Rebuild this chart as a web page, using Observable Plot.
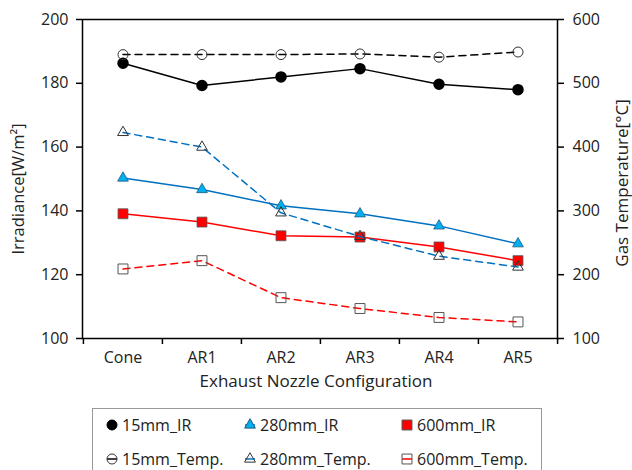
<!DOCTYPE html>
<html><head><meta charset="utf-8">
<script src="https://cdn.jsdelivr.net/npm/d3@7"></script>
<script src="https://cdn.jsdelivr.net/npm/@observablehq/plot@0.6"></script>
<style>
html,body{margin:0;padding:0;background:#fff;}
#wrap{position:relative;width:632px;height:470px;overflow:hidden;font-family:"Open Sans",sans-serif;color:#222;}
#legend{position:absolute;left:92px;top:408px;width:450px;height:63px;box-sizing:border-box;border:1px solid #999;}
.item{position:absolute;display:flex;align-items:center;font-size:16px;white-space:nowrap;height:24px;}
</style></head>
<body><div id="wrap"><div id="chart"></div><div id="legend"></div></div>
<script>
const categories = ["Cone","AR1","AR2","AR3","AR4","AR5"];
const ir15   = [186.3,179.3,182.0,184.6,179.7,178.0];
const ir280  = [150.3,146.7,141.6,139.1,135.3,129.7];
const ir600  = [139.1,136.5,132.2,131.8,128.7,124.4];
const temp15  = [545,545,545,546,541,549];
const temp280 = [423,400,297,260,229,212];
const temp600 = [209,222,164,147,133,126];
const leftTicks  = [100,120,140,160,180,200];
const rightTicks = [100,200,300,400,500,600];
const seriesNames = ["15mm_IR","280mm_IR","600mm_IR","15mm_Temp.","280mm_Temp.","600mm_Temp."];

const L0=100, L1=200, R0=100, R1=600;
const toLeft = t => L0 + (t - R0) * (L1 - L0) / (R1 - R0);
const fromLeft = v => R0 + (v - L0) * (R1 - R0) / (L1 - L0);

const rows = categories.map((c,i)=>({cat:c, ir15:ir15[i], ir280:ir280[i], ir600:ir600[i],
  t15:toLeft(temp15[i]), t280:toLeft(temp280[i]), t600:toLeft(temp600[i])}));

const W=632, H=395, mL=82, mR=75, mT=19, mB=57;
const bw = (W-mL-mR)/categories.length;
const BLUE="#0070c0", CYAN="#00b0f0", RED="#ff0000";
const dash="7,5";

const chart = Plot.plot({
  width:W, height:H, marginLeft:mL, marginRight:mR, marginTop:mT, marginBottom:mB,
  style:{fontFamily:"Open Sans, sans-serif", fontSize:"16px", color:"#222", background:"#fff"},
  x:{type:"band", domain:categories, padding:0, axis:null},
  y:{domain:[L0,L1], axis:null},
  marks:[
    Plot.axisY(leftTicks,{anchor:"left", tickSize:6, tickPadding:8, label:null, fontSize:16, stroke:"black", strokeWidth:1.5}),
    Plot.axisY(rightTicks.map(toLeft),{anchor:"right", tickSize:6, tickPadding:9, tickFormat:v=>String(Math.round(fromLeft(v))), label:null, fontSize:16, stroke:"black", strokeWidth:1.5}),
    Plot.axisX({tickSize:0, tickPadding:13, label:null, fontSize:16}),
    Plot.axisX({tickSize:6, tickFormat:()=>"", dx:-bw/2, label:null, stroke:"black", strokeWidth:1.5}),
    Plot.axisX(["AR5"],{tickSize:6, tickFormat:()=>"", dx:bw/2, label:null, stroke:"black", strokeWidth:1.5}),
    Plot.frame({stroke:"black", strokeWidth:1.5}),
    Plot.text(["Irradiance[W/m²]"],{frameAnchor:"left", textAnchor:"middle", rotate:-90, dx:-64, dy:10, fontSize:16.5}),
    Plot.text(["Gas Temperature[°C]"],{frameAnchor:"right", textAnchor:"middle", rotate:-90, dx:65, dy:4, fontSize:17}),
    Plot.text(["Exhaust Nozzle Configuration"],{frameAnchor:"bottom", textAnchor:"middle", dy:48, dx:-4, fontSize:17}),
    // IR series
    Plot.line(rows,{x:"cat", y:"ir15", stroke:"black", strokeWidth:1.5}),
    Plot.line(rows,{x:"cat", y:"ir280", stroke:BLUE, strokeWidth:1.5}),
    Plot.line(rows,{x:"cat", y:"ir600", stroke:RED, strokeWidth:1.5}),
    Plot.dot(rows,{x:"cat", y:"ir15", r:5, fill:"black", stroke:"black"}),
    Plot.dot(rows,{x:"cat", y:"ir280", symbol:"triangle", r:4, fill:CYAN, stroke:"#1f5a80", strokeWidth:0.8}),
    Plot.dot(rows,{x:"cat", y:"ir600", symbol:"square", r:5.6, fill:RED, stroke:"#555", strokeWidth:0.8}),
    // Temperature series
    Plot.line(rows,{x:"cat", y:"t15", stroke:"black", strokeWidth:1.5, strokeDasharray:dash}),
    Plot.line(rows,{x:"cat", y:"t280", stroke:BLUE, strokeWidth:1.5, strokeDasharray:dash}),
    Plot.line(rows,{x:"cat", y:"t600", stroke:RED, strokeWidth:1.5, strokeDasharray:dash}),
    Plot.dot(rows,{x:"cat", y:"t15", r:5, fill:"none", stroke:"#333", strokeWidth:1}),
    Plot.dot(rows,{x:"cat", y:"t280", symbol:"triangle", r:4, fill:"none", stroke:"#333", strokeWidth:1}),
    Plot.dot(rows,{x:"cat", y:"t600", symbol:"square", r:5.6, fill:"none", stroke:"#555", strokeWidth:1})
  ]
});
document.getElementById("chart").appendChild(chart);

// Legend
const legendSpec = [
  {name:seriesNames[0], sym:d3.symbolCircle, r:5, fill:"black", stroke:"black", line:"black", col:0, row:0},
  {name:seriesNames[1], sym:d3.symbolTriangle, r:4, fill:CYAN, stroke:"#1f5a80", line:BLUE, col:1, row:0},
  {name:seriesNames[2], sym:d3.symbolSquare, r:5.6, fill:RED, stroke:"#555", line:RED, col:2, row:0},
  {name:seriesNames[3], sym:d3.symbolCircle, r:5, fill:"none", stroke:"#333", line:"black", col:0, row:1},
  {name:seriesNames[4], sym:d3.symbolTriangle, r:4, fill:"none", stroke:"#333", line:BLUE, col:1, row:1},
  {name:seriesNames[5], sym:d3.symbolSquare, r:5.6, fill:"none", stroke:"#555", line:RED, col:2, row:1}
];
const colX=[11,149,306], rowY=[4,38];
const leg=d3.select("#legend");
for(const s of legendSpec){
  const it=leg.append("div").attr("class","item").style("left",colX[s.col]+"px").style("top",rowY[s.row]+"px");
  const sv=it.append("svg").attr("width",16).attr("height",16).attr("viewBox","-8 -8 16 16").style("margin-right","2px");
  sv.append("line").attr("x1",-5).attr("x2",5).attr("stroke",s.line).attr("stroke-width",1.5);
  sv.append("path").attr("d",d3.symbol(s.sym, Math.PI*s.r*s.r)()).attr("fill",s.fill).attr("stroke",s.stroke).attr("stroke-width",1);
  it.append("span").text(s.name);
}
</script></body></html>
